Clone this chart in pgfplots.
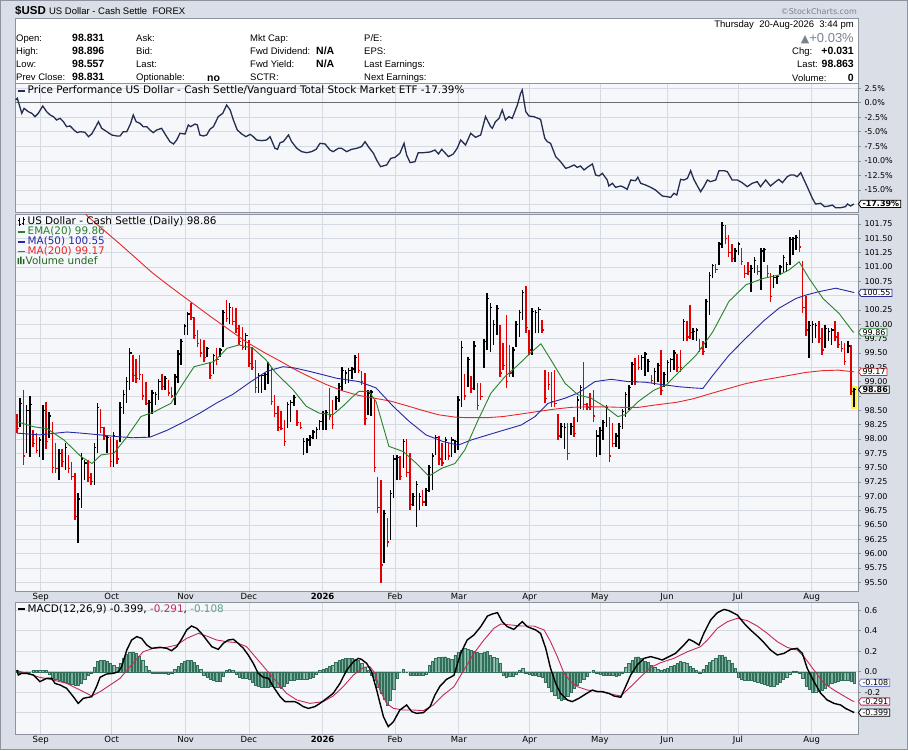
\documentclass[border=0pt]{standalone}
\usepackage{fontspec}
\setmainfont{Liberation Sans}
\newfontfamily\vf{DejaVu Sans}
\usepackage{pgfplots}
\pgfplotsset{compat=1.18}
\usepackage{pgfplotstable}
\usetikzlibrary{shapes.symbols}

\definecolor{bgc}{RGB}{218,222,230}
\definecolor{panelc}{RGB}{246,247,250}
\definecolor{gridc}{RGB}{214,218,226}
\definecolor{framec}{RGB}{140,146,158}
\definecolor{barred}{RGB}{228,0,0}
\definecolor{emac}{RGB}{40,130,40}
\definecolor{ma50c}{RGB}{40,40,165}
\definecolor{ma200c}{RGB}{232,40,40}
\definecolor{perfc}{RGB}{35,45,80}
\definecolor{sigc}{RGB}{200,40,85}
\definecolor{histf}{RGB}{120,176,155}
\definecolor{histd}{RGB}{50,110,90}
\definecolor{histt}{RGB}{90,160,140}
\definecolor{hdrgray}{RGB}{120,130,145}
\definecolor{tagblue}{RGB}{120,130,200}
\definecolor{hiyel}{RGB}{255,238,80}

\newcommand\tickfont{\vf\fontsize{8}{9}\selectfont}
\newcommand\legfont{\vf\fontsize{10.4}{11}\selectfont}
\newcommand\monthfont{\vf\fontsize{8.5}{9}\selectfont}
\newcommand\hdr{\fontsize{9.5}{11}\selectfont}
\newcommand\hdrb{\fontsize{10.5}{12}\selectfont\bfseries}

\pgfdeclareplotmark{rtick}{\pgfpathmoveto{\pgfqpoint{0pt}{0pt}}\pgfpathlineto{\pgfqpoint{1.9pt}{0pt}}\pgfusepathqstroke}

\tikzset{tag/.style={signal, signal to=west, signal pointer angle=110, fill=white, line width=0.8pt, inner xsep=1.5pt, inner ysep=0.6pt, anchor=west, text=black, font=\tickfont}}

\pgfplotsset{
 panel/.style={
   scale only axis, width=843pt,
   xmin=-0.62, xmax=261.18,
   axis background/.style={fill=panelc},
   axis line style={draw=framec, line width=0.8pt},
   xmajorgrids, ymajorgrids,
   grid style={draw=gridc, line width=0.6pt},
   xtick={7.36,29.4,52.4,72.0,94.9,117.4,137.2,159.2,181.0,201.9,223.9,246.8},
   xticklabels={},
   ytick pos=right, yticklabel pos=right, xtick pos=bottom,
   tick align=outside, major tick length=3pt,
   ytick style={draw=framec, line width=0.6pt},
   xtick style={draw=none},
   tick label style={font=\tickfont, text=black},
   clip mode=individual,
 },
 months/.style={xticklabels={Sep,Oct,Nov,Dec,\textbf{2026},Feb,Mar,Apr,May,Jun,Jul,Aug},
   xticklabel style={font=\monthfont, inner sep=1pt, yshift=2pt}},
}

\pgfplotstableread{
i lo hi cl c
0 98.10 98.44 98.18 1
1 98.21 98.71 98.62 0
2 97.54 98.85 97.70 1
3 97.75 98.59 98.50 0
4 97.69 98.74 98.60 0
5 97.86 98.15 97.92 1
6 97.75 98.10 97.80 1
7 97.69 98.04 97.98 0
8 97.63 98.59 98.50 0
9 97.83 98.65 97.95 1
10 98.01 98.47 98.40 0
11 97.40 98.30 97.50 1
12 97.40 97.92 97.48 1
13 97.28 97.83 97.75 0
14 97.51 97.83 97.60 1
15 97.46 97.92 97.85 0
16 97.40 97.72 97.48 1
17 97.28 97.60 97.35 1
18 96.58 97.40 96.65 1
19 96.18 97.05 96.95 0
20 96.79 97.75 97.65 0
21 97.28 97.63 97.58 0
22 97.25 97.63 97.32 1
23 97.19 97.40 97.25 1
24 97.19 97.92 97.85 0
25 97.75 98.62 98.55 0
26 98.10 98.53 98.20 1
27 97.98 98.21 98.05 1
28 97.75 98.07 98.02 0
29 97.51 98.04 97.60 1
30 97.51 98.12 98.05 0
31 97.57 97.98 97.65 1
32 97.95 98.65 98.55 0
33 98.44 98.85 98.78 0
34 98.62 99.08 99.00 0
35 98.85 99.58 99.50 0
36 98.99 99.46 99.10 1
37 98.97 99.40 99.05 1
38 99.03 99.46 99.12 1
39 98.68 99.14 98.75 1
40 98.59 98.99 98.62 1
41 98.04 98.68 98.64 0
42 98.44 98.85 98.80 0
43 98.59 98.82 98.78 0
44 98.68 99.05 99.00 0
45 98.85 99.14 98.92 1
46 98.85 99.10 99.05 0
47 98.74 99.03 98.80 1
48 98.71 98.91 98.75 1
49 98.59 99.14 99.08 0
50 98.97 99.55 99.48 0
51 99.29 99.75 99.70 0
52 99.81 100.01 99.97 0
53 99.81 100.22 100.18 0
54 100.07 100.37 100.12 1
55 99.75 100.13 99.80 1
56 99.61 99.90 99.66 1
57 99.43 99.75 99.50 1
58 99.35 99.72 99.42 1
59 99.43 99.61 99.58 0
60 99.05 99.35 99.10 1
61 99.14 99.49 99.45 0
62 99.29 99.58 99.38 1
63 99.43 99.58 99.55 0
64 99.60 100.25 100.20 0
65 100.04 100.42 100.10 1
66 100.00 100.38 100.30 0
67 99.98 100.30 100.05 1
68 99.85 100.28 99.92 1
69 99.64 99.99 99.70 1
70 99.55 99.95 99.60 1
71 99.55 99.85 99.80 0
72 99.25 99.73 99.32 1
73 99.20 99.60 99.25 1
74 98.80 99.38 98.90 1
75 98.80 99.15 99.10 0
76 98.80 99.12 99.11 0
77 98.85 99.15 99.12 0
78 98.95 99.35 99.30 0
79 98.59 99.23 98.65 1
80 98.39 98.77 98.45 1
81 98.13 98.57 98.20 1
82 98.16 98.48 98.18 1
83 97.87 98.33 97.95 1
84 98.19 98.65 98.60 0
85 98.30 98.68 98.64 0
86 98.57 98.77 98.72 0
87 98.22 98.51 98.28 1
88 98.18 98.30 98.20 1
89 97.72 98.01 97.95 0
90 97.75 98.02 97.98 0
91 97.87 98.07 98.02 0
92 97.99 98.16 98.12 0
93 98.00 98.20 98.16 0
94 98.16 98.33 98.30 0
95 98.16 98.48 98.44 0
96 98.16 98.50 98.46 0
97 98.33 98.88 98.40 1
98 98.18 98.68 98.25 1
99 98.51 98.74 98.70 0
100 98.65 98.97 98.92 0
101 98.83 99.26 99.20 0
102 98.95 99.20 99.15 0
103 98.98 99.23 99.20 0
104 99.05 99.26 99.22 0
105 99.15 99.47 99.42 0
106 99.15 99.50 99.20 1
107 98.94 99.18 99.00 1
108 98.25 99.15 98.35 1
109 98.42 98.86 98.80 0
110 98.40 98.86 98.82 0
111 97.43 98.68 97.50 1
112 96.71 97.34 96.80 1
113 95.48 97.29 95.80 1
114 95.83 96.76 96.70 0
115 96.12 96.62 96.20 1
116 96.24 97.11 97.05 0
117 96.97 97.72 97.65 0
118 97.29 97.72 97.68 0
119 97.29 97.70 97.35 1
120 97.49 97.99 97.95 0
121 97.34 97.99 97.42 1
122 96.76 97.76 96.85 1
123 96.82 97.05 97.00 0
124 96.47 97.26 97.20 0
125 96.76 97.05 97.00 0
126 96.82 97.11 96.90 1
127 96.82 97.14 97.10 0
128 97.08 97.55 97.50 0
129 97.11 97.75 97.70 0
130 97.72 98.07 98.02 0
131 97.55 98.05 97.65 1
132 97.52 97.92 97.58 1
133 97.63 98.04 97.98 0
134 97.63 97.92 97.70 1
135 97.69 98.04 97.98 0
136 97.75 97.98 97.95 0
137 97.81 98.74 98.68 0
138 98.56 99.70 99.60 0
139 98.68 99.14 98.75 1
140 98.91 99.43 99.38 0
141 98.80 99.10 98.88 1
142 98.85 99.70 99.62 0
143 98.50 98.97 98.58 1
144 98.68 98.97 98.74 1
145 99.23 99.75 99.70 0
146 99.55 100.54 100.45 0
147 99.52 100.37 100.30 0
148 99.64 100.07 100.00 0
149 99.81 100.34 100.28 0
150 99.08 99.99 99.15 1
151 99.20 99.67 99.28 1
152 98.88 100.16 99.00 1
153 99.08 99.64 99.15 1
154 99.08 99.61 99.55 0
155 99.61 100.05 100.00 0
156 99.78 100.25 100.20 0
157 100.07 100.60 100.55 0
158 99.84 100.66 99.95 1
159 99.46 99.90 99.55 1
160 99.46 100.28 100.22 0
161 99.84 100.25 100.20 0
162 99.84 100.31 100.26 0
163 99.84 100.07 99.90 1
164 98.62 99.20 98.70 1
165 98.85 99.17 98.95 1
166 98.56 99.17 98.65 1
167 98.56 99.20 98.62 1
168 97.98 98.44 98.05 1
169 98.01 98.27 98.22 0
170 97.83 98.27 98.20 0
171 97.63 98.27 97.75 1
172 98.07 98.27 98.22 0
173 98.04 98.39 98.10 1
174 98.30 98.74 98.68 0
175 98.53 98.94 98.90 0
176 98.50 99.35 98.60 1
177 98.50 98.62 98.55 1
178 98.50 98.80 98.56 1
179 98.30 98.85 98.40 1
180 97.69 98.15 98.05 0
181 97.72 98.21 98.15 0
182 97.98 98.33 98.28 0
183 98.21 98.59 98.55 0
184 97.60 98.39 97.70 1
185 97.86 98.27 97.92 1
186 97.86 98.10 98.05 0
187 97.83 98.27 98.22 0
188 98.18 98.53 98.48 0
189 98.39 98.82 98.78 0
190 98.50 98.94 98.90 0
191 98.94 99.35 99.30 0
192 98.94 99.41 99.00 1
193 99.20 99.46 99.25 1
194 99.20 99.46 99.42 0
195 99.09 99.52 99.48 0
196 99.17 99.40 99.35 0
197 98.97 99.11 99.02 1
198 98.94 99.23 99.18 0
199 99.00 99.32 99.28 0
200 98.77 99.55 98.85 1
201 98.90 99.17 99.12 0
202 99.00 99.38 99.33 0
203 99.17 99.41 99.38 0
204 99.20 99.55 99.50 0
205 99.17 99.49 99.25 1
206 99.17 99.55 99.25 1
207 99.70 100.10 100.05 0
208 99.70 100.05 99.78 1
209 99.75 100.34 99.85 1
210 99.73 99.93 99.88 0
211 99.70 99.93 99.90 0
212 99.52 99.75 99.58 1
213 99.46 99.70 99.52 1
214 99.58 100.45 100.40 0
215 100.16 100.92 100.85 0
216 100.80 101.06 101.02 0
217 100.89 101.06 100.95 1
218 101.03 101.44 101.40 0
219 101.33 101.79 101.72 0
220 101.41 101.73 101.50 1
221 101.18 101.56 101.25 1
222 101.09 101.41 101.15 1
223 101.09 101.33 101.28 0
224 101.21 101.44 101.40 0
225 101.03 101.33 101.10 1
226 100.80 101.03 100.88 1
227 100.86 101.09 100.92 1
228 100.57 101.03 100.98 0
229 100.89 101.18 101.12 0
230 100.86 101.03 100.92 1
231 100.60 101.33 101.28 0
232 101.09 101.33 101.30 0
233 100.80 101.03 100.88 1
234 100.39 100.89 100.48 1
235 100.63 100.86 100.82 0
236 100.71 100.86 100.84 0
237 100.86 101.03 101.00 0
238 100.92 101.21 101.16 0
239 100.92 101.09 101.05 0
240 101.03 101.53 101.48 0
241 101.21 101.53 101.50 0
242 101.30 101.56 101.52 0
243 101.27 101.65 101.35 1
244 100.20 101.10 100.30 1
245 99.80 100.50 99.90 1
246 99.41 100.05 99.98 0
247 99.67 100.05 100.00 0
248 99.76 100.02 99.98 0
249 99.67 100.05 99.75 1
250 99.46 99.93 99.55 1
251 99.58 99.99 99.92 0
252 99.70 99.93 99.88 0
253 99.64 99.93 99.90 0
254 99.70 100.05 99.78 1
255 99.58 99.87 99.65 1
256 99.52 99.70 99.58 1
257 99.29 99.67 99.35 1
258 99.50 99.70 99.62 0
259 98.77 99.64 98.83 1
260 98.557 98.896 98.863 0
}\bars

\begin{document}
\begin{tikzpicture}
\useasboundingbox (0,0) rectangle (908pt,-750pt);
\fill[bgc] (0,0) rectangle (908pt,-750pt);
\draw[framec, line width=0.8pt] (0.4pt,-0.4pt) rectangle (907.6pt,-749.6pt);
% header
\fill[white] (15pt,-18pt) rectangle (858pt,-83pt);
\draw[framec, line width=0.6pt] (15pt,-18pt) rectangle (858pt,-83pt);
\node[anchor=base west, inner sep=0] at (15pt,-14pt) {\fontsize{11.5}{13}\selectfont\bfseries \$USD\ \mdseries\fontsize{9.5}{11}\selectfont US Dollar - Cash Settle\ \ FOREX};
\node[anchor=base east, inner sep=0, text=hdrgray] at (857pt,-14pt) {\vf\fontsize{8}{9}\selectfont ©StockCharts.com};
\foreach \lab/\y in {{Open:}/41, {High:}/54.5, {Low:}/67.5, {Prev Close:}/80.5}
  \node[anchor=base west, inner sep=0] at (16pt,-\y pt) {\hdr \lab};
\foreach \v/\y in {98.831/41, 98.896/54.5, 98.557/67.5, 98.831/80.5}
  \node[anchor=base west, inner sep=0] at (72pt,-\y pt) {\hdrb \v};
\foreach \lab/\y in {{Ask:}/41, {Bid:}/54.5, {Last:}/67.5, {Optionable:}/80.5}
  \node[anchor=base west, inner sep=0] at (136pt,-\y pt) {\hdr \lab};
\node[anchor=base west, inner sep=0] at (207pt,-81pt) {\hdrb no};
\foreach \lab/\y in {{Mkt Cap:}/41, {Fwd Dividend:}/54.5, {Fwd Yield:}/67.5, {SCTR:}/80.5}
  \node[anchor=base west, inner sep=0] at (250pt,-\y pt) {\hdr \lab};
\node[anchor=base west, inner sep=0] at (316pt,-54.5pt) {\hdrb N/A};
\node[anchor=base west, inner sep=0] at (316pt,-67.5pt) {\hdrb N/A};
\node[anchor=base west, inner sep=0] at (364pt,-41pt) {\hdr P/E:};
\node[anchor=base west, inner sep=0] at (364pt,-54.5pt) {\hdr EPS:};
\node[anchor=base west, inner sep=0] at (364pt,-67.5pt) {\hdr Last Earnings:};
\node[anchor=base west, inner sep=0] at (364pt,-80.5pt) {\hdr Next Earnings:};
\node[anchor=base east, inner sep=0] at (854pt,-27.5pt) {\hdr Thursday\ \ 20-Aug-2026\ \ 3:44 pm};
\node[anchor=base east, inner sep=0, text=hdrgray] at (854pt,-42pt) {{\vf\fontsize{11}{12}\selectfont ▲}\fontsize{13}{14}\selectfont +0.03\%};
\node[anchor=base west, inner sep=0] at (792pt,-54.5pt) {\hdr Chg:};
\node[anchor=base east, inner sep=0] at (854pt,-54.5pt) {\hdrb +0.031};
\node[anchor=base west, inner sep=0] at (797pt,-67.5pt) {\hdr Last:};
\node[anchor=base east, inner sep=0] at (854pt,-67.5pt) {\hdrb 98.863};
\node[anchor=base west, inner sep=0] at (792pt,-81pt) {\hdr Volume:};
\node[anchor=base east, inner sep=0] at (854pt,-81pt) {\hdrb 0};

% ---------- performance panel
\begin{axis}[panel, at={(15pt,-212pt)}, height=129pt, ymin=-18.78, ymax=3.38,
  ytick={-17.5,-15,-12.5,-10,-7.5,-5,-2.5,0,2.5},
  yticklabels={,-15.0\%,-12.5\%,-10.0\%,-7.5\%,-5.0\%,-2.5\%,0.0\%,2.5\%},
  extra y ticks={0}, extra y tick labels={},
  extra y tick style={grid style={draw=gray!85!black, line width=0.9pt}}]
\addplot[perfc, line width=1.3pt] coordinates {
(-0.4,0.46) (0.1,0.75) (1.5,-1.83) (2.2,-0.97) (3.5,-1.54) (4.6,-1.83) (5.6,-2.40) (6.6,-1.83) (8.0,-0.57) (9.2,-1.54) (10.3,-2.11) (11.3,-2.40) (12.3,-2.97) (13.4,-2.69) (14.4,-3.26) (15.4,-4.12) (16.5,-4.00) (17.7,-4.69) (18.7,-5.15) (19.6,-4.98) (21.1,-5.09) (22.2,-5.84) (23.2,-5.38) (24.2,-4.40) (25.3,-3.26) (26.3,-4.40) (27.9,-4.98) (29.4,-5.55) (31.0,-5.72) (32.0,-5.72) (33.0,-4.98) (34.1,-4.98) (35.3,-3.55) (36.1,-2.11) (37.0,-3.26) (38.2,-3.55) (39.2,-4.12) (40.3,-4.12) (41.3,-4.69) (42.3,-5.15) (43.4,-4.69) (44.9,-4.40) (46.5,-5.84) (47.5,-6.70) (48.6,-7.10) (49.6,-6.41) (50.6,-5.26) (52.2,-5.38) (53.2,-3.83) (53.9,-4.12) (55.3,-3.66) (56.0,-3.83) (56.8,-5.55) (57.9,-5.72) (58.9,-5.55) (59.9,-4.58) (61.0,-4.12) (62.5,-2.40) (63.9,-1.83) (65.1,-0.40) (66.2,-1.25) (67.2,-2.97) (68.4,-4.69) (69.8,-5.38) (71.1,-5.84) (72.4,-5.44) (73.4,-5.84) (74.4,-6.41) (76.0,-6.52) (77.5,-6.41) (78.6,-5.84) (80.1,-7.84) (80.9,-8.01) (81.7,-6.87) (82.7,-6.70) (84.3,-5.55) (85.3,-6.70) (86.9,-7.84) (88.4,-8.41) (90.0,-8.59) (91.5,-8.41) (92.9,-8.01) (94.1,-6.98) (95.7,-7.10) (97.2,-8.13) (98.2,-8.41) (99.8,-7.84) (100.8,-7.84) (102.4,-8.41) (103.9,-8.01) (105.5,-7.84) (107.0,-7.55) (108.1,-6.70) (109.1,-7.55) (110.7,-8.70) (111.7,-9.85) (112.9,-10.99) (114.8,-10.70) (116.1,-9.56) (117.4,-9.39) (118.9,-8.70) (120.2,-6.98) (121.0,-8.99) (122.1,-10.30) (123.6,-10.13) (124.6,-8.59) (126.2,-8.59) (128.3,-8.47) (129.8,-8.13) (130.9,-8.81) (131.9,-8.01) (134.0,-9.27) (135.5,-8.81) (136.7,-7.84) (137.8,-6.41) (139.3,-7.27) (140.9,-5.26) (142.4,-5.95) (144.0,-5.55) (145.5,-2.40) (147.1,-4.12) (147.6,-4.40) (148.6,-3.26) (149.7,-2.69) (150.7,-1.25) (151.7,-2.97) (152.8,-2.40) (153.8,-2.69) (155.4,-0.40) (156.4,1.61) (156.9,2.18) (158.0,-1.54) (159.0,-2.29) (160.5,-2.40) (162.6,-2.86) (163.9,-6.12) (164.7,-6.70) (165.7,-6.98) (167.3,-9.27) (168.8,-10.13) (170.4,-11.28) (171.4,-11.11) (173.0,-10.70) (174.0,-11.11) (175.0,-10.88) (176.1,-11.56) (177.1,-11.11) (178.7,-10.53) (179.7,-12.42) (180.7,-12.59) (181.8,-12.14) (183.3,-13.28) (183.8,-14.31) (184.9,-13.85) (185.9,-14.54) (187.5,-14.31) (188.5,-14.54) (189.5,-14.89) (190.6,-13.28) (192.1,-13.40) (192.8,-12.82) (193.7,-13.85) (195.2,-14.14) (196.8,-14.54) (198.3,-15.00) (200.4,-16.03) (201.9,-16.15) (203.0,-16.26) (204.0,-15.57) (204.9,-15.86) (206.1,-13.17) (207.1,-13.28) (208.2,-13.00) (209.2,-11.68) (210.2,-13.17) (211.3,-14.31) (212.3,-15.29) (213.3,-14.43) (214.4,-13.28) (215.4,-13.57) (217.0,-13.28) (218.0,-11.68) (219.6,-11.68) (220.6,-11.85) (222.1,-13.28) (223.7,-13.28) (225.2,-13.74) (226.8,-14.43) (228.3,-13.85) (229.9,-13.57) (230.9,-14.43) (232.5,-13.28) (234.0,-14.31) (235.6,-13.57) (236.6,-13.17) (237.7,-13.74) (239.2,-12.71) (240.2,-12.42) (241.3,-12.42) (242.3,-12.71) (243.4,-12.02) (244.2,-13.00) (245.4,-14.43) (247.0,-16.43) (248.0,-17.41) (249.6,-17.29) (250.8,-17.86) (252.2,-17.75) (253.2,-17.58) (254.2,-18.04) (255.8,-18.04) (257.3,-17.86) (257.9,-17.41) (258.9,-17.75) (259.9,-17.39)
};
\node[tag, draw=black, font=\tickfont\bfseries] at (axis cs:261.18,-17.39) {-17.39\%};
\end{axis}

% ---------- price panel
\begin{axis}[panel, months, at={(15pt,-591pt)}, height=377pt, ymin=95.345, ymax=101.925,
  ytick={95.5,95.75,96,96.25,96.5,96.75,97,97.25,97.5,97.75,98,98.25,98.5,98.75,99,99.25,99.5,99.75,100,100.25,100.5,100.75,101,101.25,101.5,101.75},
  yticklabels={95.50,95.75,96.00,96.25,96.50,96.75,97.00,97.25,97.50,97.75,98.00,98.25,98.50,,99.00,99.25,99.50,99.75,100.00,100.25,,100.75,101.00,101.25,101.50,101.75}]
\addplot[hiyel, line width=5.5pt] coordinates {(260,98.53) (260,98.93)};
\addplot[black, only marks, mark=rtick, mark options={line width=1.2pt},
  restrict expr to domain={\thisrow{c}}{0:0},
  error bars/.cd, y dir=both, y explicit, error mark=none,
  error bar style={line width=1.5pt, black}]
  table[x=i, y=cl, y error plus expr=\thisrow{hi}-\thisrow{cl}, y error minus expr=\thisrow{cl}-\thisrow{lo}] {\bars};
\addplot[barred, only marks, mark=rtick, mark options={line width=1.2pt},
  restrict expr to domain={\thisrow{c}}{1:1},
  error bars/.cd, y dir=both, y explicit, error mark=none,
  error bar style={line width=1.5pt, barred}]
  table[x=i, y=cl, y error plus expr=\thisrow{hi}-\thisrow{cl}, y error minus expr=\thisrow{cl}-\thisrow{lo}] {\bars};
% MA200
\addplot[ma200c, line width=0.9pt] coordinates {
(20.5,101.98) (22,101.88) (27,101.64) (32,101.40) (37,101.15) (42,100.90) (48,100.64) (54,100.39) (60,100.14) (66,99.90) (71,99.70) (77,99.50) (82,99.35) (86,99.22) (91,99.08) (96,98.95) (101,98.84) (106,98.76) (111,98.71) (116,98.66) (121,98.58) (127,98.48) (131,98.42) (136,98.38) (140,98.37) (146,98.37) (151,98.39) (156,98.43) (162,98.48) (167,98.52) (172,98.55) (177,98.56) (182,98.56) (188,98.55) (193,98.55) (198,98.59) (205,98.64) (210,98.70) (216,98.80) (221,98.88) (226,98.96) (231,99.02) (236,99.07) (241,99.12) (245,99.16) (250,99.19) (255,99.20) (260,99.17)
};
% MA50
\addplot[ma50c, line width=0.9pt] coordinates {
(0,98.10) (7,98.07) (15.5,98.12) (20,98.10) (25.8,98.07) (31,98.04) (36,98.02) (41.3,98.03) (46.6,98.15) (51.6,98.29) (56.8,98.45) (62.1,98.63) (67.1,98.78) (72.4,98.99) (77.6,99.18) (82.6,99.26) (86,99.24) (90.7,99.18) (95,99.12) (99.1,99.06) (106.2,99.0) (111.5,98.89) (116.8,98.57) (121.7,98.31) (127,98.07) (132,97.96) (137,97.89) (141,97.98) (146.3,98.07) (151.6,98.16) (156.5,98.24) (160.9,98.39) (164.9,98.62) (170.2,98.71) (174.2,98.80) (179.5,99.00) (184.5,99.04) (189.8,99.00) (195,98.99) (200,98.95) (205.6,98.91) (210,98.89) (213,98.88) (216.1,99.11) (221.1,99.46) (226.4,99.76) (231.7,100.05) (236.6,100.28) (241.9,100.45) (245,100.51) (249.1,100.57) (254.3,100.63) (259.6,100.56) (260,100.55)
};
% EMA20
\addplot[emac, line width=0.9pt] coordinates {
(0,98.30) (5.3,98.21) (9.3,98.18) (14.6,97.98) (19.9,97.69) (23.3,97.57) (26.1,97.72) (30.1,97.75) (34.2,98.04) (38.5,98.39) (42.5,98.47) (47.8,98.62) (50.9,98.91) (55,99.26) (61.2,99.35) (65.2,99.58) (68.9,99.64) (73.3,99.58) (77.3,99.38) (80.4,99.15) (85.7,98.86) (89.8,98.57) (93.8,98.45) (98.1,98.42) (101.2,98.57) (104.3,98.74) (106.2,98.83) (109.3,98.83) (111.5,98.65) (113.7,98.22) (115.5,97.87) (119.9,97.78) (123.9,97.58) (127.9,97.35) (132,97.49) (136,97.57) (139.1,97.81) (143.2,98.33) (147.2,98.80) (151.6,99.09) (155.6,99.29) (159.3,99.49) (162.7,99.66) (165.8,99.38) (170.2,98.97) (174.2,98.77) (178.3,98.71) (182.6,98.56) (186.6,98.39) (188.8,98.42) (192.9,98.65) (197.8,98.85) (201.6,98.94) (205.6,99.17) (210.9,99.46) (216.1,99.87) (221.1,100.40) (226.4,100.69) (231.7,100.80) (236.6,100.86) (239.8,100.95) (242.9,101.09) (246,100.80) (250.3,100.45) (255.3,100.19) (259.6,99.87) (260,99.86)
};
\node[tag, draw=ma50c] at (axis cs:261.18,100.55) {100.55};
\node[tag, draw=emac] at (axis cs:261.18,99.86) {99.86};
\node[tag, draw=ma200c] at (axis cs:261.18,99.17) {99.17};
\node[tag, draw=black, font=\tickfont\bfseries] at (axis cs:261.18,98.86) {98.86};
\end{axis}

% ---------- MACD panel
\begin{axis}[panel, months, at={(15pt,-734pt)}, height=131.3pt, ymin=-0.608, ymax=0.673,
  ytick={-0.4,-0.2,0,0.2,0.4,0.6}, yticklabels={,-0.2,0.0,0.2,0.4,0.6}]
\addplot[ybar, bar width=2.3pt, fill=histf, draw=histd, line width=0.35pt] coordinates {
(0,0.01) (1,-0.01) (2,0.0) (3,-0.01) (4,0.0) (5,0.01) (6,0.01) (7,0.01) (8,0.01) (9,0.01)
(10,-0.02) (11,-0.06) (12,-0.07) (13,-0.08) (14,-0.09) (15,-0.10) (16,-0.11) (17,-0.12) (18,-0.13) (19,-0.13)
(20,-0.11) (21,-0.07) (22,-0.03) (23,-0.01) (24,0.04) (25,0.10) (26,0.11) (27,0.11) (28,0.10) (29,0.08)
(30,0.06) (31,0.04) (32,0.08) (33,0.13) (34,0.17) (35,0.19) (36,0.195) (37,0.18) (38,0.15) (39,0.11)
(40,0.05) (41,0.01) (42,-0.01) (43,-0.01) (44,-0.01) (45,-0.01) (46,-0.01) (47,-0.02) (48,-0.01) (49,0.02)
(50,0.05) (51,0.08) (52,0.10) (53,0.11) (54,0.11) (55,0.09) (56,0.06) (57,0.02) (58,-0.03) (59,-0.05)
(60,-0.07) (61,-0.08) (62,-0.09) (63,-0.09) (64,-0.04) (65,0.01) (66,0.02) (67,0.01) (68,-0.02) (69,-0.05)
(70,-0.06) (71,-0.06) (72,-0.07) (73,-0.10) (74,-0.13) (75,-0.14) (76,-0.15) (77,-0.15) (78,-0.15) (79,-0.14)
(80,-0.15) (81,-0.15) (82,-0.16) (83,-0.14) (84,-0.11) (85,-0.08) (86,-0.08) (87,-0.075) (88,-0.075) (89,-0.075)
(90,-0.075) (91,-0.065) (92,-0.055) (93,-0.02) (94,0.015) (95,0.02) (96,0.03) (97,0.05) (98,0.065) (99,0.09)
(100,0.11) (101,0.12) (102,0.13) (103,0.13) (104,0.13) (105,0.12) (106,0.11) (107,0.08) (108,0.04) (109,0.01)
(110,-0.03) (111,-0.08) (112,-0.15) (113,-0.21) (114,-0.27) (115,-0.33) (116,-0.28) (117,-0.17) (118,-0.06) (119,0.0)
(120,0.02) (121,0.0) (122,-0.03) (123,-0.03) (124,-0.03) (125,-0.03) (126,-0.03) (127,-0.02) (128,0.06) (129,0.10)
(130,0.13) (131,0.14) (132,0.145) (133,0.146) (134,0.13) (135,0.12) (136,0.16) (137,0.19) (138,0.21) (139,0.23)
(140,0.22) (141,0.21) (142,0.20) (143,0.19) (144,0.18) (145,0.19) (146,0.20) (147,0.16) (148,0.14) (149,0.13)
(150,0.08) (151,-0.03) (152,-0.05) (153,-0.045) (154,-0.04) (155,-0.02) (156,0.01) (157,0.03) (158,-0.01) (159,-0.02)
(160,-0.03) (161,-0.03) (162,-0.04) (163,-0.05) (164,-0.10) (165,-0.15) (166,-0.19) (167,-0.23) (168,-0.26) (169,-0.28)
(170,-0.27) (171,-0.24) (172,-0.20) (173,-0.16) (174,-0.13) (175,-0.10) (176,-0.07) (177,-0.04) (178,0.0) (179,0.015)
(180,-0.015) (181,-0.02) (182,-0.03) (183,-0.03) (184,-0.03) (185,-0.035) (186,-0.04) (187,-0.03) (188,-0.01) (189,0.04)
(190,0.08) (191,0.11) (192,0.14) (193,0.146) (194,0.13) (195,0.10) (196,0.09) (197,0.065) (198,0.04) (199,0.02)
(200,0.015) (201,0.02) (202,0.03) (203,0.05) (204,0.065) (205,0.08) (206,0.10) (207,0.09) (208,0.08) (209,0.05)
(210,0.03) (211,0.01) (212,-0.015) (213,0.02) (214,0.065) (215,0.09) (216,0.11) (217,0.13) (218,0.16) (219,0.16)
(220,0.146) (221,0.11) (222,0.08) (223,0.03) (224,-0.05) (225,-0.07) (226,-0.08) (227,-0.08) (228,-0.085) (229,-0.09)
(230,-0.10) (231,-0.11) (232,-0.12) (233,-0.13) (234,-0.14) (235,-0.14) (236,-0.12) (237,-0.10) (238,-0.075) (239,-0.05)
(240,-0.02) (241,0.007) (242,0.005) (243,-0.01) (244,-0.06) (245,-0.14) (246,-0.17) (247,-0.195) (248,-0.195) (249,-0.19)
(250,-0.18) (251,-0.16) (252,-0.13) (253,-0.11) (254,-0.10) (255,-0.09) (256,-0.08) (257,-0.08) (258,-0.08) (259,-0.09)
(260,-0.108)
};
\addplot[sigc, line width=0.9pt] coordinates {
(0,0.010) (3.0,-0.016) (7.1,-0.055) (11.3,-0.081) (15.4,-0.114) (19.6,-0.179) (23.2,-0.237) (25.8,-0.195) (28.9,-0.130) (32.0,-0.065) (35.1,0.049) (39.2,0.195) (42.3,0.228) (46.5,0.238) (49.6,0.260) (52.7,0.325) (56.3,0.374) (58.9,0.348) (62.0,0.309) (65.1,0.293) (68.2,0.283) (71.3,0.244) (74.4,0.130) (77.5,0.016) (80.6,-0.097) (83.7,-0.211) (86.9,-0.276) (91.0,-0.309) (95.1,-0.292) (98.2,-0.237) (101.3,-0.146) (104.5,-0.032) (107.6,0.042) (109.6,0.049) (111.2,-0.016) (112.7,-0.179) (114.8,-0.309) (116.9,-0.358) (120.0,-0.374) (123.1,-0.374) (126.2,-0.380) (129.3,-0.325) (132.4,-0.227) (135.7,-0.146) (138.8,0.016) (141.9,0.179) (145.0,0.309) (148.1,0.423) (150.2,0.465) (153.3,0.456) (156.4,0.446) (160.5,0.446) (163.7,0.407) (165.7,0.293) (167.8,0.147) (169.9,-0.016) (171.9,-0.097) (174.0,-0.146) (177.1,-0.179) (181.2,-0.195) (184.4,-0.218) (187.5,-0.237) (190.6,-0.146) (193.7,-0.049) (196.8,0.042) (199.9,0.088) (204.0,0.130) (208.2,0.195) (212.3,0.244) (214.4,0.309) (217.5,0.423) (220.6,0.488) (223.7,0.521) (226.8,0.498) (229.9,0.446) (233.0,0.374) (236.1,0.293) (239.2,0.237) (242.3,0.211) (244.4,0.147) (247.5,0.016) (250.6,-0.114) (253.7,-0.179) (256.8,-0.237) (259.4,-0.285) (260,-0.291)
};
\addplot[black, line width=1.4pt] coordinates {
(0,0.017) (0.4,-0.032) (1.4,-0.016) (3.0,-0.016) (5.1,-0.032) (7.1,-0.097) (9.2,-0.065) (10.8,-0.065) (11.8,-0.114) (13.4,-0.130) (15.4,-0.162) (17.5,-0.244) (19.0,-0.309) (20.6,-0.260) (22.2,-0.250) (23.2,-0.244) (24.7,-0.146) (25.8,-0.055) (27.8,-0.023) (29.9,-0.016) (31.5,0.0) (32.5,0.049) (34.1,0.212) (35.6,0.309) (37.2,0.342) (38.7,0.325) (40.3,0.260) (41.8,0.228) (44.4,0.238) (46.5,0.228) (48.0,0.205) (49.6,0.244) (51.1,0.316) (52.7,0.407) (54.2,0.446) (55.8,0.423) (57.3,0.374) (58.9,0.309) (60.5,0.244) (62.5,0.218) (64.1,0.277) (65.6,0.309) (67.2,0.316) (68.7,0.277) (70.3,0.228) (71.8,0.163) (73.4,0.081) (74.9,-0.016) (76.5,-0.055) (78.1,-0.065) (79.6,-0.146) (81.7,-0.244) (83.2,-0.292) (84.8,-0.292) (86.3,-0.292) (87.4,-0.309) (88.9,-0.341) (90.5,-0.358) (92.5,-0.341) (94.1,-0.309) (96.2,-0.260) (98.2,-0.211) (100.3,-0.114) (102.4,0.016) (104.5,0.098) (106.0,0.130) (107.0,0.120) (108.6,0.081) (110.1,0.0) (111.7,-0.179) (113.8,-0.439) (115.3,-0.536) (116.9,-0.488) (118.9,-0.374) (121.0,-0.325) (122.6,-0.390) (124.1,-0.406) (126.2,-0.400) (128.3,-0.341) (129.8,-0.227) (131.4,-0.140) (133.4,-0.075) (135.7,-0.035) (137.8,0.179) (139.8,0.309) (141.9,0.358) (144.0,0.439) (146.1,0.543) (147.6,0.563) (149.2,0.576) (150.7,0.488) (152.3,0.439) (154.3,0.413) (156.9,0.488) (158.5,0.439) (161.1,0.407) (162.6,0.374) (164.2,0.228) (165.7,0.033) (167.3,-0.114) (168.8,-0.211) (170.9,-0.276) (172.4,-0.292) (174.5,-0.260) (176.6,-0.218) (178.7,-0.179) (180.2,-0.195) (181.8,-0.195) (183.8,-0.211) (185.4,-0.237) (187.5,-0.250) (189.0,-0.146) (190.6,-0.032) (192.6,0.065) (194.7,0.130) (196.8,0.147) (198.8,0.130) (200.4,0.114) (202.5,0.147) (204.5,0.179) (207.1,0.260) (208.7,0.316) (210.2,0.293) (211.8,0.260) (213.3,0.374) (215.4,0.504) (217.5,0.576) (219.6,0.608) (221.1,0.595) (223.7,0.553) (225.8,0.472) (227.8,0.407) (229.9,0.348) (232.0,0.283) (234.0,0.212) (236.1,0.163) (238.2,0.179) (240.3,0.218) (242.3,0.228) (243.9,0.179) (245.4,0.033) (247.5,-0.097) (249.6,-0.211) (251.6,-0.276) (253.7,-0.309) (255.8,-0.325) (257.3,-0.358) (259.4,-0.390) (260,-0.399)
};
\node[tag, draw=tagblue] at (axis cs:261.18,-0.108) {-0.108};
\node[tag, draw=sigc] at (axis cs:261.18,-0.291) {-0.291};
\node[tag, draw=black] at (axis cs:261.18,-0.399) {-0.399};
\end{axis}

% ---------- legends
\draw[perfc, line width=1.6pt] (17.5pt,-91pt) -- (25pt,-91pt);
\node[anchor=west, inner sep=0, font=\legfont] at (27.5pt,-91pt) {Price Performance US Dollar - Cash Settle/Vanguard Total Stock Market ETF -17.39\%};
\draw[black, line width=1pt] (19pt,-218pt) -- (19pt,-226pt) (17.5pt,-220pt) -- (19pt,-220pt) (19pt,-224pt) -- (20.5pt,-224pt);
\draw[black, line width=1pt] (23pt,-217pt) -- (23pt,-225pt) (21.5pt,-223pt) -- (23pt,-223pt) (23pt,-219pt) -- (24.5pt,-219pt);
\node[anchor=west, inner sep=0, font=\legfont] at (27.5pt,-221.7pt) {US Dollar - Cash Settle (Daily) 98.86};
\draw[emac, line width=1.6pt] (17.5pt,-231.7pt) -- (25pt,-231.7pt);
\node[anchor=west, inner sep=0, font=\legfont, text=emac] at (27.5pt,-231.7pt) {EMA(20) 99.86};
\draw[ma50c, line width=1.6pt] (17.5pt,-241.7pt) -- (25pt,-241.7pt);
\node[anchor=west, inner sep=0, font=\legfont, text=ma50c] at (27.5pt,-241.7pt) {MA(50) 100.55};
\draw[ma200c, line width=1.6pt] (17.5pt,-251.3pt) -- (25pt,-251.3pt);
\node[anchor=west, inner sep=0, font=\legfont, text=ma200c] at (27.5pt,-251.3pt) {MA(200) 99.17};
\fill[emac!80!black] (17.5pt,-264pt) rectangle (19pt,-258pt) (20.2pt,-264pt) rectangle (21.7pt,-256.5pt) (22.9pt,-264pt) rectangle (24.4pt,-259pt);
\node[anchor=west, inner sep=0, font=\legfont, text=emac!80!black] at (25.5pt,-260.7pt) {Volume undef};
\draw[black, line width=1.6pt] (17.5pt,-609pt) -- (25pt,-609pt);
\node[anchor=west, inner sep=0, font=\legfont] at (27.5pt,-609pt) {MACD(12,26,9) -0.399, \textcolor{sigc}{-0.291}, \textcolor{histt}{-0.108}};
\end{tikzpicture}
\end{document}
